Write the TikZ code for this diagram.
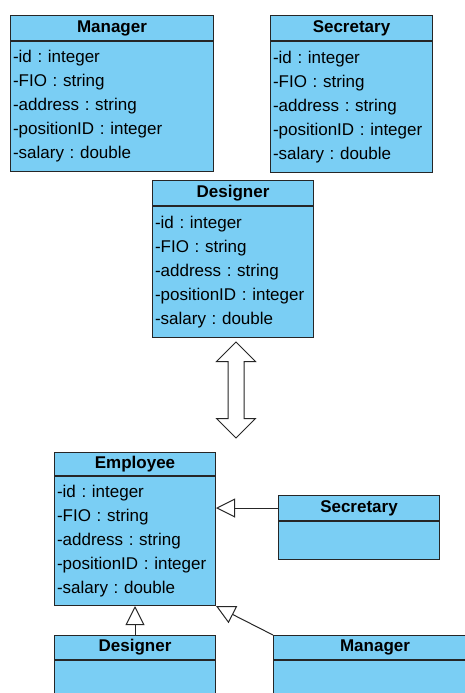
\documentclass[tikz,border=0pt]{standalone}
\usepackage{fontspec}
\setmainfont{Liberation Sans}
\usetikzlibrary{positioning,shapes.arrows,arrows.meta}
\definecolor{umlblue}{RGB}{122,206,244}

\begin{document}
\begin{tikzpicture}[
    x=1pt, y=-1pt,
    every node/.style={draw=black!85, line width=1pt, fill=umlblue, inner sep=0pt},
    head/.style={minimum width=#1, minimum height=25, anchor=north west,
        font=\bfseries\fontsize{17}{20}\selectfont},
    body/.style={text width=#1, inner xsep=2.5pt, align=left, anchor=north,
        font=\frenchspacing\fontsize{17}{24}\selectfont},
    inherit/.style={draw=black!85, line width=1pt,
        -{Triangle[open, length=19pt, width=19pt, fill=white]}}
]
\useasboundingbox (0,0) rectangle (465,693);
\clip (0,0) rectangle (465,693);

% Separate classes
\node[head=203] (mgrh) at (10,15) {Manager};
\node[body=198, minimum height=130] (mgrb) at (mgrh.south)
    {-id : integer\\-FIO : string\\-address : string\\-positionID : integer\\-salary : double};

\node[head=162] (sech) at (270,15) {Secretary};
\node[body=157, minimum height=131] (secb) at (sech.south)
    {-id : integer\\-FIO : string\\-address : string\\-positionID : integer\\-salary : double};

\node[head=161] (desh) at (152,180) {Designer};
\node[body=156, minimum height=131] (desb) at (desh.south)
    {-id : integer\\-FIO : string\\-address : string\\-positionID : integer\\-salary : double};

% Transition
\node[double arrow, fill=white, rotate=90, minimum height=96,
    inner sep=7.5pt, double arrow head extend=11.5pt] (swap) at (236,390) {};

% Hierarchy
\node[head=161, minimum height=23] (emph) at (54,452) {Employee};
\node[body=156, minimum height=129] (empb) at (emph.south)
    {-id : integer\\-FIO : string\\-address : string\\-positionID : integer\\-salary : double};

\node[head=161] (sec2h) at (278,495) {Secretary};
\node[body=156, minimum height=38] (sec2b) at (sec2h.south) {};

\node[head=161, minimum height=24] (des2h) at (54,635) {Designer};
\node[body=156, minimum height=60] (des2b) at (des2h.south) {};

\node[head=203, minimum height=24] (mgr2h) at (273,635) {Manager};
\node[body=198, minimum height=60] (mgr2b) at (mgr2h.south) {};

\draw[inherit] (sec2h.west) -- (sec2h.west -| empb.east);
\draw[inherit] (des2h.north) -- (empb.south);
\draw[inherit] (mgr2h.north west) -- (empb.south east);
\end{tikzpicture}
\end{document}
